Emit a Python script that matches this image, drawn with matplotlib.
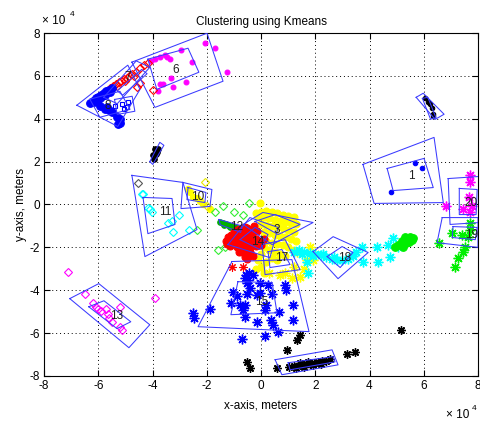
import matplotlib
matplotlib.use("Agg")
import matplotlib.pyplot as plt

plt.rcParams['font.family'] = ['Liberation Sans', 'DejaVu Sans']

# ---------------- data (units of 1e4 m) ----------------
c1_pts = [(5.68, 1.92), (5.94, 1.68), (4.80, 0.56)]
c2_pts = [(6.05, 4.95), (6.24, 4.67), (6.35, 4.11), (6.35, 4.21), (6.15, 4.80), (6.30, 4.50)]
c3_pts = [(-0.2, -0.4), (0.0, -0.35), (0.2, -0.3), (0.4, -0.35), (0.6, -0.4), (0.8, -0.5), (1.0, -0.55), (1.2, -0.6),
          (-0.1, -0.6), (0.1, -0.6), (0.3, -0.65), (0.5, -0.7), (0.7, -0.75), (0.9, -0.8), (1.1, -0.85), (1.3, -0.9),
          (0.0, -0.9), (0.2, -0.95), (0.4, -1.0), (0.6, -1.05), (0.8, -1.1), (1.0, -1.2), (1.2, -1.3),
          (0.1, -1.3), (0.3, -1.35), (0.5, -1.4), (0.7, -1.45), (0.9, -1.5), (1.1, -1.6), (1.3, -1.7),
          (0.2, -1.7), (0.4, -1.8), (0.6, -1.85), (0.8, -1.9), (1.0, -2.0), (1.2, -2.1),
          (0.3, -2.1), (0.5, -2.2), (0.7, -2.3), (0.9, -2.4), (0.4, -2.5), (0.6, -2.6), (0.2, -2.7),
          (0.0, -2.9), (-0.2, -3.0), (0.1, -3.2), (-0.04, 0.09), (0.0, -2.3), (0.1, -2.0), (-0.1, -2.6)]
c6_pts = [(-2.07, 7.52), (-1.70, 7.29), (-1.25, 6.17), (-2.95, 7.20), (-2.55, 6.64), (-3.54, 6.96), (-3.73, 6.87),
          (-3.91, 6.78), (-3.36, 6.78), (-3.32, 5.89), (-3.25, 5.47), (-2.77, 5.70), (-3.62, 5.61), (-3.73, 5.61),
          (-3.80, 5.28), (-3.45, 6.90), (-4.05, 6.70)]
c7_pts = [(-5.55, 5.45), (-5.45, 5.55), (-5.35, 5.60), (-5.25, 5.70), (-5.15, 5.75), (-5.05, 5.85), (-4.95, 5.90),
          (-4.85, 6.00), (-4.75, 6.10), (-4.60, 6.20), (-4.45, 6.35), (-4.30, 6.50), (-4.15, 6.60), (-5.30, 5.55),
          (-5.00, 5.75), (-4.70, 6.00), (-4.58, 5.47), (-3.99, 5.33), (-4.46, 5.65)]
c8_pts = [(-6.30, 4.75), (-6.20, 4.85), (-6.10, 4.95), (-6.00, 5.00), (-5.90, 5.10), (-5.80, 5.20), (-5.70, 5.30),
          (-5.60, 5.35), (-5.50, 5.45), (-6.15, 4.80), (-5.85, 5.05), (-5.68, 4.53), (-5.75, 4.45), (-5.60, 4.40),
          (-5.50, 4.30), (-5.31, 4.07), (-5.20, 4.00), (-5.28, 3.74), (-5.20, 3.80), (-5.95, 4.60),
          (-6.05, 4.85), (-5.95, 4.95), (-5.75, 5.10), (-5.55, 5.25)]
c8_sq_pts = [(-5.13, 4.67), (-4.90, 4.77), (-5.05, 4.44), (-5.40, 4.60), (-4.95, 4.55)]
c9_pts = [(-3.91, 2.57), (-3.99, 2.29), (-3.84, 2.43), (-3.95, 2.10), (-3.88, 2.35), (-3.80, 2.60)]
c10_pts = [(-2.62, 0.56), (-2.51, 0.37), (-2.36, 0.28), (-2.25, 0.14), (-2.70, 0.70), (-2.15, 0.00), (-1.88, -0.23)]
c10_dia_pts = [(-2.07, 1.03), (-1.99, -0.09)]
c11_pts = [(-4.39, 0.51), (-4.10, -0.23), (-4.02, -0.33), (-3.43, -0.84), (-3.28, -0.79), (-3.03, -0.51),
           (-3.25, -1.26), (-2.66, -1.21), (-4.17, -0.14), (-4.35, 0.47)]
c11_black_pts = [(-4.54, 0.98)]
cg_dia_pts = [(-1.40, -0.05), (-1.00, -0.37), (-0.66, -0.47), (-0.44, 0.05), (-1.70, -0.37), (-1.59, -2.10),
              (-1.33, -1.96), (-2.36, -1.17)]
c12_pts = [(-1.5, -0.8), (-1.4, -0.85), (-1.3, -0.9), (-1.2, -0.95), (-1.1, -1.0), (-1.0, -1.05), (-0.9, -1.1),
           (-0.8, -1.15), (-1.35, -0.95), (-1.15, -1.05)]
c13_pts = [(-7.12, -3.13), (-6.49, -4.16), (-6.20, -4.58), (-6.01, -4.86), (-5.72, -4.86), (-5.61, -5.28),
           (-5.50, -5.47), (-5.20, -5.70), (-5.13, -5.84), (-5.20, -4.77), (-3.91, -4.35), (-6.09, -4.77),
           (-5.90, -4.95), (-5.65, -5.10)]
c14_pts = [(-1.2, -1.5), (-1.1, -1.4), (-1.0, -1.3), (-0.9, -1.2), (-0.8, -1.15), (-0.7, -1.1), (-0.6, -1.05),
           (-0.5, -1.1), (-0.4, -1.2), (-0.3, -1.3), (-1.1, -1.6), (-1.0, -1.55), (-0.9, -1.5), (-0.8, -1.45),
           (-0.7, -1.4), (-0.6, -1.35), (-0.5, -1.4), (-0.4, -1.5), (-0.3, -1.55), (-0.2, -1.6),
           (-1.0, -1.8), (-0.9, -1.75), (-0.8, -1.7), (-0.7, -1.65), (-0.6, -1.6), (-0.5, -1.7), (-0.4, -1.75),
           (-0.3, -1.8), (-0.1, -1.7), (0.1, -1.6), (-0.9, -2.0), (-0.8, -1.95), (-0.7, -1.9), (-0.6, -1.9),
           (-0.5, -2.0), (-0.4, -2.0), (-0.2, -1.95), (0.0, -1.9), (-0.8, -2.2), (-0.7, -2.2), (-0.6, -2.25),
           (-0.5, -2.3), (-0.4, -2.2), (-0.3, -2.4), (-0.6, -2.45), (-0.5, -2.55), (-1.3, -1.7), (-1.25, -1.85),
           (-1.15, -1.95), (-0.25, -1.0), (-0.15, -1.25)]
c14_star_pts = [(-1.07, -2.90), (-0.66, -2.90)]
c15_pts = [(-0.59, -3.41), (-0.52, -3.64), (-0.48, -3.50), (-0.41, -3.88), (-0.04, -3.64), (0.26, -3.74),
           (0.89, -3.74), (0.92, -3.97), (-1.03, -4.07), (-0.89, -4.25), (-0.52, -4.16), (-0.15, -4.21),
           (-0.04, -4.11), (0.41, -4.16), (-1.11, -4.58), (-0.77, -4.67), (-0.59, -4.67), (-0.66, -4.91),
           (0.15, -4.91), (0.18, -4.67), (0.66, -5.00), (1.18, -4.67), (-0.59, -5.23), (-0.15, -5.47),
           (0.37, -5.37), (0.44, -5.61), (0.63, -5.93), (1.18, -5.37), (-1.88, -4.86), (-2.51, -5.05),
           (-2.47, -5.28), (-0.70, -6.26), (0.15, -6.12), (-0.45, -3.20), (-0.30, -3.30), (-0.55, -3.30)]
c16_pts = [(1.05, -7.60), (1.20, -7.55), (1.35, -7.52), (1.50, -7.50), (1.65, -7.45), (1.80, -7.42), (1.95, -7.40),
           (2.10, -7.35), (2.25, -7.30), (2.40, -7.28), (2.55, -7.22), (1.30, -7.65), (1.60, -7.58), (1.90, -7.50),
           (2.20, -7.45), (1.45, -7.40), (1.75, -7.35), (1.44, -6.07), (1.33, -6.31), (0.96, -6.78),
           (-0.52, -7.34), (-0.41, -7.62), (0.59, -7.62), (3.17, -6.96), (3.47, -6.87), (5.17, -5.84)]
c17_pts = [(1.33, -2.20), (1.70, -2.57), (1.44, -3.36), (0.70, -3.27), (1.14, -3.41), (0.30, -3.18), (1.81, -2.00),
           (1.60, -3.00), (1.90, -2.60), (1.20, -2.90), (0.90, -3.20), (2.00, -2.30)]
c18_pts = [(3.73, -1.96), (4.28, -1.96), (4.69, -1.87), (4.87, -1.54), (5.06, -1.96), (4.76, -2.43), (4.32, -2.66),
           (3.76, -2.66), (1.70, -2.66), (1.73, -3.18), (1.4, -2.1), (1.6, -2.2), (1.8, -2.25), (2.0, -2.3),
           (2.2, -2.35), (2.4, -2.45), (2.6, -2.55), (2.8, -2.6), (3.0, -2.6), (3.2, -2.55), (1.5, -2.3),
           (1.9, -2.4), (2.3, -2.3), (2.7, -2.45), (3.4, -2.4), (3.5, -2.2), (1.2, -2.2)]
c18g_pts = [(5.3, -1.5), (5.4, -1.6), (5.5, -1.5), (5.45, -1.75), (5.55, -1.65), (5.2, -1.7), (5.35, -1.8),
            (5.6, -1.55), (5.05, -1.9), (4.95, -2.0), (5.24, -1.96)]
c19_pts = [(7.71, -0.84), (7.71, -1.17), (7.64, -1.50), (7.05, -1.31), (7.42, -1.40), (7.53, -1.96), (7.45, -2.20),
           (7.27, -2.48), (7.16, -2.90), (6.57, -1.78)]
c20_pts = [(7.71, 1.36), (7.71, 1.03), (7.45, -0.23), (7.71, -0.33), (7.79, -0.09), (6.83, -0.05), (7.68, 0.33)]

polygons = [
    [(3.76, 1.87), (6.38, 3.13), (6.72, 0.09), (4.17, 0.05)],
    [(4.65, 1.68), (6.01, 2.15), (6.35, 0.79), (4.87, 0.65)],
    [(5.72, 5.00), (5.98, 5.19), (6.75, 4.21), (6.42, 3.97)],
    [(5.95, 4.95), (6.15, 5.00), (6.45, 4.05), (6.25, 3.98)],
    [(-4.76, 6.64), (-1.99, 7.99), (-1.40, 5.75), (-3.91, 4.53)],
    [(-4.17, 6.78), (-2.69, 7.29), (-2.29, 6.17), (-3.84, 5.37)],
    [(-5.80, 5.00), (-4.60, 6.70), (-4.10, 6.40), (-5.30, 4.70)],
    [(-5.30, 5.30), (-4.40, 6.30), (-4.20, 6.10), (-5.10, 5.10)],
    [(-6.79, 4.63), (-4.91, 6.50), (-4.46, 5.37), (-5.28, 3.64)],
    [(-6.31, 4.91), (-5.20, 5.28), (-4.83, 4.44), (-5.94, 4.07)],
    [(-5.40, 4.90), (-4.75, 5.05), (-4.65, 4.35), (-5.30, 4.20)],
    [(-4.10, 2.00), (-3.73, 2.90), (-3.58, 2.76), (-3.99, 1.87)],
    [(-4.76, 1.36), (-2.88, 1.03), (-2.36, -1.17), (-4.28, -2.43)],
    [(-4.35, 0.33), (-3.28, 0.28), (-3.17, -0.93), (-4.17, -1.36)],
    [(-2.88, 1.03), (-1.81, 0.70), (-1.88, -0.09), (-2.95, -0.19)],
    [(-2.69, 0.79), (-2.03, 0.56), (-2.07, 0.09), (-2.73, 0.23)],
    [(-1.55, -0.70), (-0.70, -1.00), (-0.75, -1.30), (-1.50, -0.95)],
    [(-0.66, -0.93), (0.07, -0.37), (1.92, -0.84), (0.41, -1.87)],
    [(-0.22, -0.79), (0.52, -0.47), (1.44, -0.93), (0.63, -1.40)],
    [(-1.22, -1.87), (-0.41, -0.61), (0.63, -1.07), (0.33, -2.48)],
    [(-0.77, -1.64), (-0.22, -1.07), (0.26, -1.40), (-0.04, -2.10)],
    [(0.04, -1.87), (0.89, -1.64), (1.44, -3.04), (0.15, -3.27)],
    [(0.26, -2.20), (0.77, -2.10), (1.07, -2.80), (0.33, -2.94)],
    [(-1.07, -2.66), (1.14, -2.57), (1.77, -5.93), (-2.32, -5.70)],
    [(-0.85, -3.60), (0.41, -3.64), (0.59, -5.05), (-1.11, -5.14)],
    [(0.52, -7.24), (2.62, -6.78), (2.84, -7.48), (0.77, -7.94)],
    [(1.00, -7.38), (2.66, -7.10), (2.73, -7.34), (1.07, -7.71)],
    [(1.92, -2.20), (2.66, -1.50), (3.95, -2.24), (2.84, -3.46)],
    [(2.44, -2.43), (2.99, -1.96), (3.39, -2.24), (2.92, -2.94)],
    [(6.68, -0.61), (8.00, -0.61), (8.00, -2.00), (6.49, -1.78)],
    [(7.08, -1.03), (7.97, -1.07), (7.90, -1.64), (7.05, -1.54)],
    [(6.90, 1.21), (8.08, 1.31), (8.08, -0.84), (6.97, -0.93)],
    [(7.31, 0.75), (7.97, 0.70), (7.93, -0.47), (7.31, -0.47)],
    [(-7.05, -4.39), (-5.98, -3.69), (-4.10, -5.61), (-4.87, -6.68)],
    [(-6.35, -4.77), (-5.79, -4.49), (-4.80, -5.47), (-5.31, -5.79)],
]

label_text = ["1", "3", "6", "7", "8", "10", "11", "12", "13", "14", "15", "17", "18", "19", "20"]
label_x = [5.53, 0.59, -3.14, -4.90, -5.65, -2.32, -3.54, -0.89, -5.31, -0.11, 0.04, 0.77, 3.10, 7.75, 7.75]
label_y = [1.31, -1.17, 6.26, 5.93, 4.58, 0.37, -0.37, -1.03, -5.19, -1.73, -4.53, -2.48, -2.48, -1.40, 0.09]

ticks = [-8, -6, -4, -2, 0, 2, 4, 6, 8]

# ---------------- figure ----------------
fig = plt.figure(figsize=(4.8, 4.23), dpi=100)
ax = fig.add_axes([44 / 480, 1 - 376 / 423, 434 / 480, 343 / 423])

ASTER = (8, 2, 0)


def scat(pts, color, marker, ms, mfc=None, mew=0.8):
    xs = [p[0] for p in pts]
    ys = [p[1] for p in pts]
    if mfc is None:
        mfc = color
    ax.plot(xs, ys, linestyle='none', marker=marker, color=color, ms=ms,
            mfc=mfc, mec=color, mew=mew, zorder=2)


for poly in polygons:
    xs = [p[0] for p in poly] + [poly[0][0]]
    ys = [p[1] for p in poly] + [poly[0][1]]
    ax.plot(xs, ys, color='#3a3aff', lw=0.75, zorder=3)

scat(c1_pts, '#0000ff', 'o', 3.2)
scat(c2_pts, 'k', 'o', 3.2)
scat(c3_pts, '#ffff00', 'o', 5)
scat(c6_pts, '#ff00ff', 'o', 3.5)
scat(c7_pts, '#ff0000', 'D', 4, mfc='none')
scat(c8_pts, '#0000ff', 'o', 5.5)
scat(c8_sq_pts, '#0000ff', 's', 3, mfc='none')
scat(c9_pts, 'k', 'o', 4)
scat(c10_pts, '#ffff00', 'o', 4.5)
scat(c10_dia_pts, '#e8e800', 'D', 4, mfc='none')
scat(c11_pts, '#00ffff', 'D', 4, mfc='none')
scat(c11_black_pts, '#555555', 'D', 4, mfc='none')
scat(cg_dia_pts, '#33ee33', 'D', 4, mfc='none')
scat(c12_pts, '#00b000', 'o', 4)
scat(c13_pts, '#ff00ff', 'D', 4, mfc='none')
scat(c14_pts, '#ff0000', 'o', 5)
scat(c14_star_pts, '#ff0000', ASTER, 6)
scat(c15_pts, '#0000ff', ASTER, 7, mew=1.0)
scat(c16_pts, 'k', ASTER, 6, mew=1.0)
scat(c17_pts, '#ffff00', ASTER, 7, mew=1.0)
scat(c18_pts, '#00ffff', ASTER, 7, mew=1.0)
scat(c18g_pts, '#00ee00', 'o', 5.5)
scat(c19_pts, '#00ee00', ASTER, 7, mew=1.0)
scat(c20_pts, '#ff00ff', ASTER, 7, mew=1.0)

for t, x, y in zip(label_text, label_x, label_y):
    ax.text(x, y, t, fontsize=8.5, ha='center', va='center', color='#202020', zorder=4, clip_on=True)

ax.set_xlim(-8, 8)
ax.set_ylim(-8, 8)
ax.set_xticks(ticks)
ax.set_yticks(ticks)
ax.set_xticklabels([str(t) for t in ticks], fontsize=8.5)
ax.set_yticklabels([str(t) for t in ticks], fontsize=8.5)
ax.tick_params(direction='in', top=True, right=True, length=4, width=0.8, pad=3)
ax.grid(True, linestyle=(0, (1, 3)), color='k', linewidth=0.7)
for s in ax.spines.values():
    s.set_linewidth(0.8)

ax.set_title("Clustering using Kmeans", fontsize=8.5, pad=6)
ax.set_xlabel("x-axis, meters", fontsize=8.5, labelpad=5)
ax.set_ylabel("y-axis, meters", fontsize=8.5, labelpad=2)

fig.text(42 / 480, 1 - 27 / 423, "\u00d7 10", fontsize=8.5, ha='left', va='bottom')
fig.text(70 / 480, 1 - 18 / 423, "4", fontsize=6, ha='left', va='bottom')
fig.text(446 / 480, 1 - 421 / 423, "\u00d7 10", fontsize=8.5, ha='left', va='bottom')
fig.text(472 / 480, 1 - 412 / 423, "4", fontsize=6, ha='left', va='bottom')

fig.savefig("out.png", dpi=100)
